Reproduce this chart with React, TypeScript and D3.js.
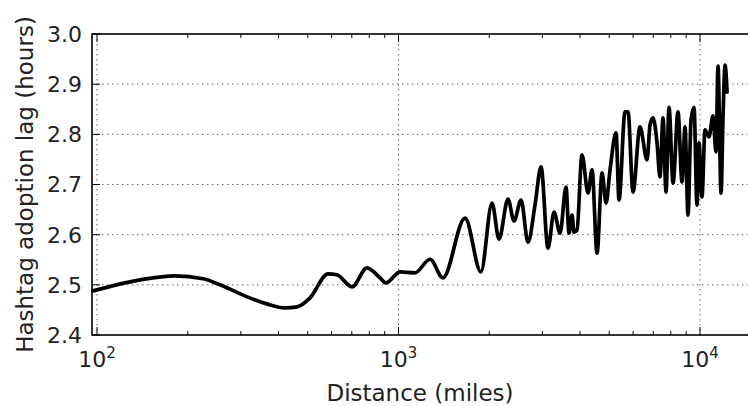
import React from "react";
import * as d3 from "d3";

// Distance (miles) and hashtag adoption lag (hours)
const distances: number[] = [
  97, 139, 181, 225, 256, 315, 366, 420, 461, 509, 584, 625, 701, 786, 868, 909,
  1012, 1134, 1272, 1404, 1662, 1877, 2043, 2154, 2308, 2416, 2549, 2689, 2836,
  2970, 3132, 3280, 3434, 3594, 3677, 3762, 3820, 3908, 4061, 4252, 4384, 4555,
  4732, 4879, 5030, 5266, 5388, 5640, 5771, 5995, 6324, 6672, 6828, 6985, 7202,
  7367, 7539, 7714, 7893, 8140, 8453, 8716, 8918, 9125, 9336, 9553, 9772, 9924,
  10154, 10389, 10711, 11044, 11300, 11474, 11743, 11924, 12108, 12294,
];
const lagHours: number[] = [
  2.488, 2.51, 2.518, 2.512, 2.5, 2.476, 2.462, 2.454, 2.456, 2.474, 2.522, 2.52,
  2.496, 2.534, 2.514, 2.504, 2.526, 2.524, 2.551, 2.514, 2.633, 2.526, 2.663,
  2.591, 2.671, 2.627, 2.669, 2.585, 2.659, 2.735, 2.573, 2.645, 2.603, 2.695,
  2.603, 2.639, 2.605, 2.609, 2.759, 2.683, 2.729, 2.563, 2.723, 2.663, 2.729,
  2.803, 2.669, 2.845, 2.845, 2.685, 2.815, 2.749, 2.819, 2.833, 2.783, 2.715,
  2.833, 2.685, 2.854, 2.703, 2.845, 2.705, 2.815, 2.639, 2.829, 2.854, 2.659,
  2.783, 2.675, 2.809, 2.795, 2.837, 2.765, 2.936, 2.683, 2.837, 2.938, 2.884,
];
const yTicks: number[] = [2.4, 2.5, 2.6, 2.7, 2.8, 2.9, 3.0];
const xMajorExps: number[] = [2, 3, 4];
const xLabel = "Distance (miles)";
const yLabel = "Hashtag adoption lag (hours)";

const W = 748;
const H = 406;
const L = 92;
const R = 748;
const T = 34;
const B = 335;
const FONT = "DejaVu Sans, sans-serif";

export default function App() {
  const x = d3.scaleLog().domain([96.25, 14427]).range([L, R]);
  const y = d3.scaleLinear().domain([2.4, 3.0]).range([B, T]);
  const pts: [number, number][] = distances.map((d, i) => [d, lagHours[i]]);
  const line = d3
    .line<[number, number]>()
    .x((d) => x(d[0]))
    .y((d) => y(d[1]))
    .curve(d3.curveMonotoneX);

  const minor: number[] = [];
  for (const e of [1, 2, 3, 4]) {
    for (let m = 2; m <= 9; m++) {
      const v = m * Math.pow(10, e);
      const [a, b] = x.domain();
      if (v > a && v < b) minor.push(v);
    }
  }
  const majors = xMajorExps.map((e) => Math.pow(10, e));
  const grid = { stroke: "#666", strokeWidth: 1, strokeDasharray: "1.5,3.5" };

  return (
    <svg
      width={W}
      height={H}
      style={{ position: "absolute", left: 0, top: 0, background: "#fff" }}
      fontFamily={FONT}
    >
      <rect x={0} y={0} width={W} height={H} fill="#fff" />
      {/* grid */}
      {yTicks.slice(1, -1).map((t) => (
        <line key={"gy" + t} x1={L} x2={R} y1={y(t)} y2={y(t)} {...grid} />
      ))}
      {majors.map((t) => (
        <line key={"gx" + t} x1={x(t)} x2={x(t)} y1={T} y2={B} {...grid} />
      ))}
      {/* data line */}
      <path
        d={line(pts) || ""}
        fill="none"
        stroke="#000"
        strokeWidth={3.7}
        strokeLinejoin="round"
        strokeLinecap="round"
      />
      {/* ticks */}
      {yTicks.map((t) => (
        <line key={"ty" + t} x1={L} x2={L + 8} y1={y(t)} y2={y(t)} stroke="#000" strokeWidth={1} />
      ))}
      {majors.map((t) => (
        <g key={"tx" + t}>
          <line x1={x(t)} x2={x(t)} y1={B} y2={B - 8} stroke="#000" strokeWidth={1} />
          <line x1={x(t)} x2={x(t)} y1={T} y2={T + 8} stroke="#000" strokeWidth={1} />
        </g>
      ))}
      {minor.map((t) => (
        <g key={"mx" + t}>
          <line x1={x(t)} x2={x(t)} y1={B} y2={B - 4} stroke="#000" strokeWidth={1} />
          <line x1={x(t)} x2={x(t)} y1={T} y2={T + 4} stroke="#000" strokeWidth={1} />
        </g>
      ))}
      {/* frame */}
      <rect x={L} y={T} width={R - L + 4} height={B - T} fill="none" stroke="#000" strokeWidth={1.6} />
      {/* y tick labels */}
      {yTicks.map((t) => (
        <text
          key={"ly" + t}
          x={82}
          y={y(t)}
          dy="0.36em"
          textAnchor="end"
          fontSize={22}
          fill="#222"
        >
          {t.toFixed(1)}
        </text>
      ))}
      {/* x tick labels */}
      {xMajorExps.map((e) => (
        <text key={"lx" + e} x={x(Math.pow(10, e))} y={367} textAnchor="middle" fontSize={22} fill="#222">
          10
          <tspan fontSize={15} dy={-9}>
            {e}
          </tspan>
        </text>
      ))}
      {/* axis labels */}
      <text x={(L + R) / 2} y={401} textAnchor="middle" fontSize={23} fill="#222">
        {xLabel}
      </text>
      <text
        transform={`translate(33,${(T + B) / 2}) rotate(-90)`}
        textAnchor="middle"
        fontSize={23}
        fill="#222"
      >
        {yLabel}
      </text>
    </svg>
  );
}
